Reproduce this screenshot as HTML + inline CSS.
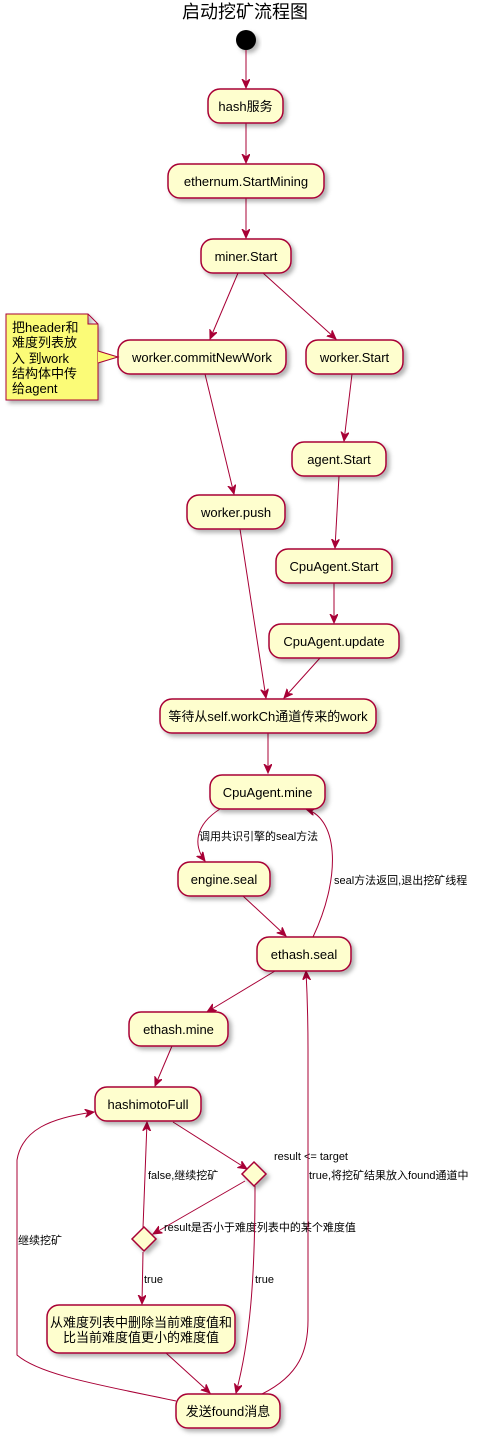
<!DOCTYPE html>
<html><head><meta charset="utf-8"><style>
html,body{margin:0;padding:0;background:#fff;}
svg{display:block;}
text{font-family:"Liberation Sans","Noto Sans CJK SC",sans-serif;font-size:13px;fill:#000;}
.n{fill:#FEFECE;stroke:#A80036;stroke-width:1.5;filter:url(#sh);}
.e{fill:none;stroke:#A80036;stroke-width:1;}
.l{font-size:11px;}
</style></head><body>
<svg width="489" height="1438" viewBox="0 0 489 1438" xmlns="http://www.w3.org/2000/svg">
<defs>
<filter id="sh" x="-20%" y="-20%" width="150%" height="160%"><feDropShadow dx="3" dy="3" stdDeviation="2" flood-color="#000" flood-opacity="0.3"/></filter>
<marker id="a" markerWidth="10" markerHeight="10" refX="9" refY="4" orient="auto" markerUnits="userSpaceOnUse"><path d="M0,0 L9,4 L0,8 L3,4 Z" fill="#A80036" stroke="#A80036" stroke-width="1"/></marker>
</defs>
<text x="245" y="18" text-anchor="middle" style="font-size:18px">启动挖矿流程图</text>
<circle cx="246" cy="40" r="10" fill="#000" filter="url(#sh)"/>

<path class="e" d="M246,50 V88" marker-end="url(#a)"/>
<path class="e" d="M246,123 V163" marker-end="url(#a)"/>
<path class="e" d="M246,198 V238" marker-end="url(#a)"/>
<path class="e" d="M238,273 L210,339" marker-end="url(#a)"/>
<path class="e" d="M263,273 L336,339" marker-end="url(#a)"/>
<path class="e" d="M205,374 L234,494" marker-end="url(#a)"/>
<path class="e" d="M352,374 L344,441" marker-end="url(#a)"/>
<path class="e" d="M339,476 L335,548" marker-end="url(#a)"/>
<path class="e" d="M334,583 V623" marker-end="url(#a)"/>
<path class="e" d="M240,529 L266,698" marker-end="url(#a)"/>
<path class="e" d="M320,658 L284,698" marker-end="url(#a)"/>
<path class="e" d="M268,733 V773" marker-end="url(#a)"/>
<path class="e" d="M220,809 C195,825 193,845 205,861" marker-end="url(#a)"/>
<text class="l" x="199" y="840">调用共识引擎的seal方法</text>
<path class="e" d="M313,937 C340,880 340,820 306,809" marker-end="url(#a)"/>
<text class="l" x="334" y="884">seal方法返回,退出挖矿线程</text>
<path class="e" d="M243,896 L286,936" marker-end="url(#a)"/>
<path class="e" d="M275,971 L207,1012" marker-end="url(#a)"/>
<path class="e" d="M172,1046 L155,1086" marker-end="url(#a)"/>
<path class="e" d="M173,1122 L247,1169" marker-end="url(#a)"/>
<text class="l" x="274" y="1160">result &lt;= target</text>
<text class="l" x="309" y="1179">true,将挖矿结果放入found通道中</text>
<path class="e" d="M245,1181 L153,1234" marker-end="url(#a)"/>
<text class="l" x="164" y="1231">result是否小于难度列表中的某个难度值</text>
<path class="e" d="M143,1228 L147,1122" marker-end="url(#a)"/>
<text class="l" x="148" y="1179">false,继续挖矿</text>
<path class="e" d="M143,1252 L142,1304" marker-end="url(#a)"/>
<text class="l" x="144" y="1283">true</text>
<path class="e" d="M255,1186 C255,1280 250,1340 236,1393" marker-end="url(#a)"/>
<text class="l" x="255" y="1283">true</text>
<path class="e" d="M166,1353 L210,1393" marker-end="url(#a)"/>
<path class="e" d="M176,1401 C100,1385 40,1375 17,1355 C17,1300 17,1220 17,1160 C22,1130 50,1118 94,1112" marker-end="url(#a)"/>
<text class="l" x="18" y="1244">继续挖矿</text>
<path class="e" d="M262,1394 C300,1375 308,1350 308,1320 V1050 C308,1010 307,990 306,971" marker-end="url(#a)"/>

<rect class="n" x="208" y="89" width="75" height="34" rx="12"/><text x="245.5" y="111" text-anchor="middle">hash服务</text>
<rect class="n" x="168" y="164" width="156" height="34" rx="12"/><text x="246" y="186" text-anchor="middle">ethernum.StartMining</text>
<rect class="n" x="201" y="239" width="90" height="34" rx="12"/><text x="246" y="261" text-anchor="middle">miner.Start</text>
<rect class="n" x="118" y="340" width="168" height="34" rx="12"/><text x="202" y="362" text-anchor="middle">worker.commitNewWork</text>
<rect class="n" x="306" y="340" width="97" height="34" rx="12"/><text x="354.5" y="362" text-anchor="middle">worker.Start</text>
<path d="M6,314 H88 L98,324 V400 H6 Z M88,314 V324 H98" fill="#FBFB77" stroke="#A80036" stroke-width="1" filter="url(#sh)"/>
<path d="M98,351 L118,357 L98,363 Z" fill="#FBFB77"/>
<path d="M98,351 L118,357 L98,363" fill="none" stroke="#A80036" stroke-width="1"/>
<text x="12" y="332">把header和</text>
<text x="12" y="347">难度列表放</text>
<text x="12" y="363">入 到work</text>
<text x="12" y="378">结构体中传</text>
<text x="12" y="393">给agent</text>
<rect class="n" x="187" y="495" width="98" height="34" rx="12"/><text x="236" y="517" text-anchor="middle">worker.push</text>
<rect class="n" x="292" y="442" width="94" height="34" rx="12"/><text x="339" y="464" text-anchor="middle">agent.Start</text>
<rect class="n" x="276" y="549" width="116" height="34" rx="12"/><text x="334" y="571" text-anchor="middle">CpuAgent.Start</text>
<rect class="n" x="269" y="624" width="130" height="34" rx="12"/><text x="334" y="646" text-anchor="middle">CpuAgent.update</text>
<rect class="n" x="160" y="699" width="216" height="34" rx="12"/><text x="268" y="721" text-anchor="middle">等待从self.workCh通道传来的work</text>
<rect class="n" x="210" y="775" width="115" height="34" rx="12"/><text x="267.5" y="797" text-anchor="middle">CpuAgent.mine</text>
<rect class="n" x="178" y="862" width="92" height="34" rx="12"/><text x="224" y="884" text-anchor="middle">engine.seal</text>
<rect class="n" x="257" y="937" width="94" height="34" rx="12"/><text x="304" y="959" text-anchor="middle">ethash.seal</text>
<rect class="n" x="129" y="1012" width="99" height="34" rx="12"/><text x="178.5" y="1034" text-anchor="middle">ethash.mine</text>
<rect class="n" x="95" y="1087" width="106" height="34" rx="12"/><text x="148" y="1109" text-anchor="middle">hashimotoFull</text>
<path class="n" d="M254,1162 L266,1174 L254,1186 L242,1174 Z"/>
<path class="n" d="M144,1227 L156,1239 L144,1251 L132,1239 Z"/>
<rect class="n" x="47" y="1305" width="188" height="48" rx="12"/>
<text x="141" y="1327" text-anchor="middle">从难度列表中删除当前难度值和</text>
<text x="141" y="1342" text-anchor="middle">比当前难度值更小的难度值</text>
<rect class="n" x="176" y="1394" width="104" height="34" rx="12"/><text x="228" y="1416" text-anchor="middle">发送found消息</text>
</svg>
</body></html>
